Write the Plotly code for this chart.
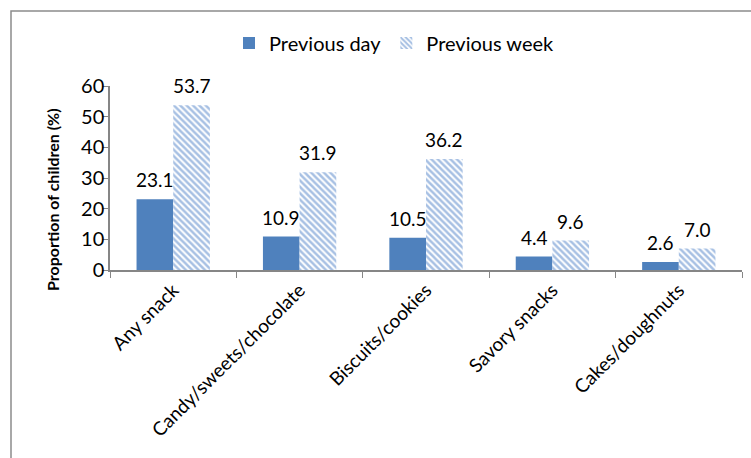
import plotly.graph_objects as go

categories = ["Any snack", "Candy/sweets/chocolate", "Biscuits/cookies", "Savory snacks", "Cakes/doughnuts"]
previous_day = [23.1, 10.9, 10.5, 4.4, 2.6]
previous_week = [53.7, 31.9, 36.2, 9.6, 7.0]
y_ticks = [0, 10, 20, 30, 40, 50, 60]

FONT = "Lato"
BLUE = "#4F81BD"
PLOT_W = 632
BARGAP = 0.42
bar_px = PLOT_W / len(categories) * (1 - BARGAP) / 2

fig = go.Figure()
fig.add_trace(go.Bar(
    name="Previous day", x=categories, y=previous_day,
    marker=dict(color=BLUE, line=dict(width=0)),
))
fig.add_trace(go.Bar(
    name="Previous week", x=categories, y=previous_week,
    marker=dict(color="white", line=dict(width=0),
                pattern=dict(shape="\\", fgcolor="#4F82C8", bgcolor="white",
                             size=4.5, solidity=0.55, fillmode="overlay")),
))

annotations = []
for series, shift in ((previous_day, -bar_px / 2), (previous_week, bar_px / 2)):
    for cat, v in zip(categories, series):
        annotations.append(dict(x=cat, y=v, xref="x", yref="y", text=f"{v:.1f}",
                                showarrow=False, xshift=shift, yshift=6, yanchor="bottom",
                                font=dict(family=FONT, size=19, color="black")))
annotations.append(dict(text="<b>Proportion of children (%)</b>", textangle=-90,
                        xref="paper", yref="paper", x=(52 - 110) / PLOT_W, y=(270 - 200) / 184,
                        xanchor="center", yanchor="middle", showarrow=False,
                        font=dict(family=FONT, size=16, color="black")))

fig.update_layout(
    width=751, height=458,
    margin=dict(l=110, r=9, t=86, b=188),
    paper_bgcolor="white", plot_bgcolor="white",
    barmode="group", bargap=BARGAP, bargroupgap=0,
    font=dict(family=FONT, size=19, color="black"),
    showlegend=True,
    legend=dict(orientation="h", x=(229 - 110) / PLOT_W, xanchor="left", y=(270 - 43) / 184, yanchor="middle",
                font=dict(family=FONT, size=20), bgcolor="rgba(0,0,0,0)",
                itemwidth=30, traceorder="normal"),
    xaxis=dict(
        showline=True, linecolor="#868686", linewidth=1.5,
        ticks="outside", tickson="boundaries", ticklen=6, tickcolor="#868686",
        tickangle=-45, tickfont=dict(family=FONT, size=19),
        showgrid=False, zeroline=False,
    ),
    yaxis=dict(
        range=[0, 60], tickvals=y_ticks, showline=True, linecolor="#868686", linewidth=1.5,
        ticks="outside", ticklen=6, tickcolor="#868686",
        tickfont=dict(family=FONT, size=20), ticklabelstandoff=-6,
        showgrid=False, zeroline=False,
    ),
    annotations=annotations,
    shapes=[dict(type="rect", xref="paper", yref="paper",
                 x0=(11 - 110) / PLOT_W, x1=(770 - 110) / PLOT_W,
                 y0=(270 - 470) / 184, y1=(270 - 11) / 184,
                 line=dict(color="#8c8c8c", width=1.5), fillcolor="rgba(0,0,0,0)", layer="below")],
)

fig.write_html("out.html")
